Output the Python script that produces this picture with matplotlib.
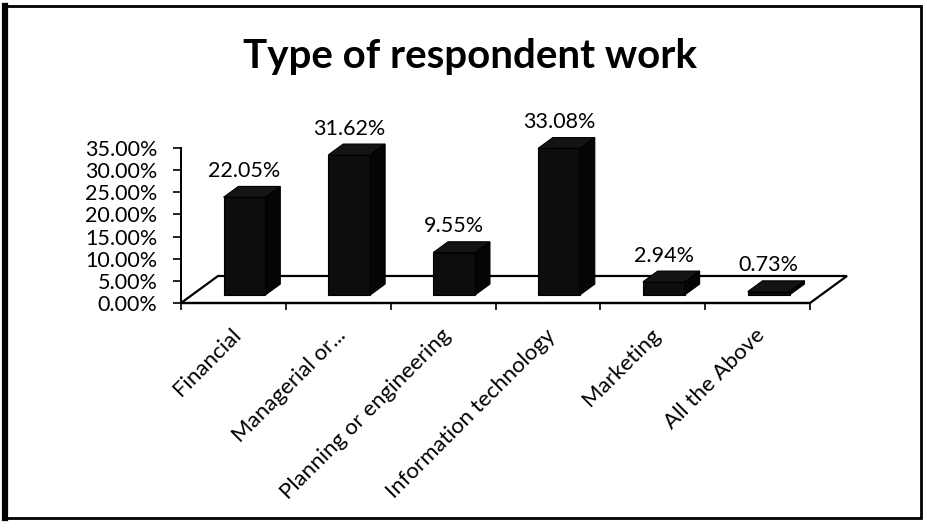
import numpy as np
import matplotlib
matplotlib.use("Agg")
import matplotlib.pyplot as plt
from matplotlib.patches import Polygon, Rectangle
from matplotlib.lines import Line2D
from matplotlib.ticker import FixedLocator, FuncFormatter
import matplotlib.transforms as mtransforms

categories = ["Financial", "Managerial or...", "Planning or engineering",
              "Information technology", "Marketing", "All the Above"]
shares = [22.05, 31.62, 9.55, 33.08, 2.94, 0.73]
y_ticks = [0, 5, 10, 15, 20, 25, 30, 35]

plt.rcParams["font.family"] = ["Lato", "DejaVu Sans"]

W, H = 927, 531
fig = plt.figure(figsize=(W / 100, H / 100), dpi=100)

# plot area placed in pixel terms: front floor edge and value axis
x_left, x_right = 181, 810
y_zero, y_top = 303, 148
ax = fig.add_axes([x_left / W, (H - y_zero) / H,
                   (x_right - x_left) / W, (y_zero - y_top) / H])
ax.set_xlim(-0.5, len(categories) - 0.5)
ax.set_ylim(0, 35)
ax.patch.set_visible(False)

# oblique depth of the floor, in data units
ddx, ddy = 0.353, 6.1
n = len(categories)

# floor
floor = Polygon([(-0.5, 0), (n - 0.5, 0), (n - 0.5 + ddx, ddy), (-0.5 + ddx, ddy)],
                closed=True, facecolor="white", edgecolor="black", lw=1.6,
                clip_on=False, zorder=1)
ax.add_patch(floor)

# 3-D columns: front face, top and right side
bw = 0.4
f0, f1 = 0.3, 0.4
bx, by = f1 * ddx, f1 * ddy
tops = []
for i, v in enumerate(shares):
    x0 = i - bw / 2 + f0 * ddx
    x1 = x0 + bw
    b = f0 * ddy
    t = b + v
    tops.append(t + by)
    ax.bar(x0 + bw / 2, v, width=bw, bottom=b, color="#0d0d0d",
           edgecolor="black", lw=0.8, clip_on=False, zorder=3)
    top = Polygon([(x0, t), (x1, t), (x1 + bx, t + by), (x0 + bx, t + by)],
                  closed=True, facecolor="#141414", edgecolor="black", lw=0.8,
                  clip_on=False, zorder=3)
    side = Polygon([(x1, b), (x1 + bx, b + by), (x1 + bx, t + by), (x1, t)],
                   closed=True, facecolor="#050505", edgecolor="black", lw=0.8,
                   clip_on=False, zorder=3)
    ax.add_patch(top)
    ax.add_patch(side)

# value labels above each column
for i, v in enumerate(shares):
    ax.text(i + f0 * ddx, tops[i] + 3.5, f"{v:.2f}%", ha="center",
            va="center", fontsize=15.5, clip_on=False, zorder=4)

# axes styling
for s in ["top", "right"]:
    ax.spines[s].set_visible(False)
ax.spines["left"].set_linewidth(1.4)
ax.spines["bottom"].set_linewidth(1.6)
ax.yaxis.set_major_locator(FixedLocator(y_ticks))
ax.yaxis.set_major_formatter(FuncFormatter(lambda v, p: f"{v:.2f}%"))
ax.tick_params(axis="y", length=6, width=1.2, pad=11, labelsize=15.5)

ax.set_xticks(range(n))
ax.set_xticklabels(categories, rotation=45, ha="right", va="center",
                   rotation_mode="anchor", fontsize=16)
ax.set_xticks(np.arange(-0.5, n, 1.0), minor=True)
ax.tick_params(axis="x", which="major", length=0, pad=21)
ax.tick_params(axis="x", which="minor", length=5, width=1.2)
shift = mtransforms.ScaledTranslation(4 / 100, 0, fig.dpi_scale_trans)
for lab in ax.get_xticklabels():
    lab.set_transform(lab.get_transform() + shift)

fig.text(470 / W, 1 - 68 / H, "Type of respondent work", ha="center",
         va="baseline", fontsize=29, fontweight="bold")

# chart frame
fig.patches.append(Rectangle((5 / W, 13 / H), 916 / W, 512 / H,
                             transform=fig.transFigure, fill=False,
                             edgecolor="black", lw=2.0))
fig.lines.append(Line2D([5 / W, 5 / W], [13 / H, 525 / H],
                        transform=fig.transFigure, color="black", lw=4.5))

fig.savefig("out.png", dpi=100)
